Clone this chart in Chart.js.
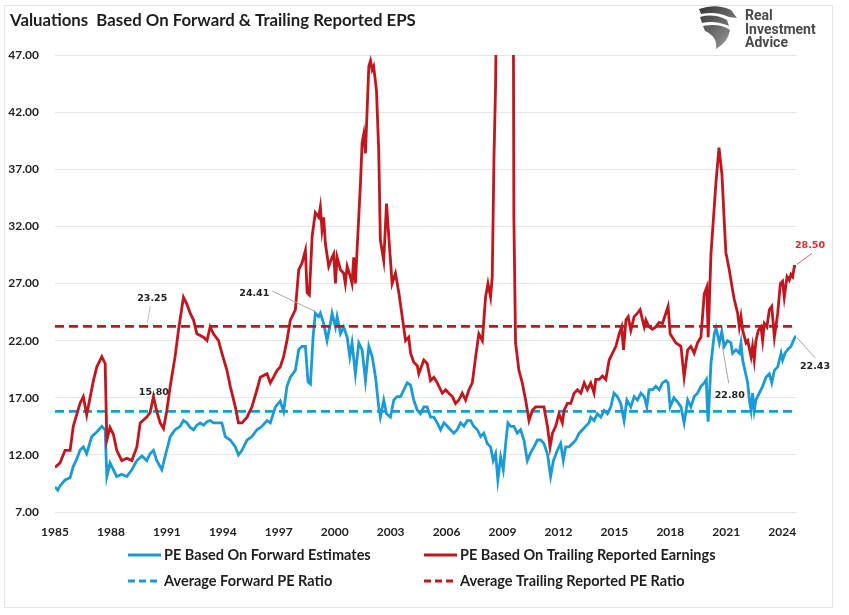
<!DOCTYPE html>
<html><head><meta charset="utf-8">
<script src="https://cdn.jsdelivr.net/npm/chart.js@4.4.1/dist/chart.umd.min.js"></script>
<style>html,body{margin:0;padding:0;background:#fff}#wrap{width:849px;height:615px;position:relative}</style>
</head><body><div id="wrap"><canvas id="c" width="849" height="615"></canvas></div>
<script>
const chartTitle = "Valuations  Based On Forward & Trailing Reported EPS";
const logoLines = ["Real", "Investment", "Advice"];
const tickYears = [1985,1988,1991,1994,1997,2000,2003,2006,2009,2012,2015,2018,2021,2024];
const yTicks = [7,12,17,22,27,32,37,42,47];
const seriesNames = ["PE Based On Forward Estimates","PE Based On Trailing Reported Earnings","Average Forward PE Ratio","Average Trailing Reported PE Ratio"];

const forwardDates = [1985.00,1985.15,1985.27,1985.54,1985.81,1985.98,1986.16,1986.34,1986.52,1986.70,1986.97,1987.24,1987.51,1987.69,1987.78,1987.95,1988.13,1988.31,1988.58,1988.85,1989.12,1989.39,1989.66,1989.92,1990.10,1990.28,1990.46,1990.73,1990.91,1991.18,1991.44,1991.71,1991.89,1992.07,1992.25,1992.43,1992.61,1992.79,1992.97,1993.15,1993.32,1993.50,1993.68,1993.95,1994.13,1994.40,1994.67,1994.84,1995.03,1995.30,1995.56,1995.83,1996.10,1996.37,1996.55,1996.82,1997.08,1997.26,1997.44,1997.62,1997.89,1998.07,1998.25,1998.43,1998.57,1998.70,1998.84,1998.96,1999.14,1999.23,1999.41,1999.59,1999.77,1999.86,2000.04,2000.13,2000.31,2000.48,2000.67,2000.81,2000.93,2001.11,2001.29,2001.47,2001.65,2001.83,2002.01,2002.19,2002.36,2002.45,2002.63,2002.78,2002.99,2003.17,2003.35,2003.53,2003.71,2003.89,2004.07,2004.24,2004.43,2004.60,2004.78,2004.96,2005.14,2005.32,2005.50,2005.68,2005.86,2006.04,2006.21,2006.39,2006.57,2006.75,2006.93,2007.11,2007.29,2007.46,2007.65,2007.83,2008.00,2008.18,2008.36,2008.50,2008.63,2008.75,2008.90,2009.04,2009.17,2009.29,2009.44,2009.61,2009.79,2009.97,2010.15,2010.33,2010.51,2010.69,2010.87,2011.05,2011.22,2011.41,2011.58,2011.73,2011.94,2012.12,2012.26,2012.39,2012.57,2012.75,2012.93,2013.11,2013.29,2013.46,2013.64,2013.73,2013.91,2014.09,2014.27,2014.45,2014.63,2014.81,2014.98,2015.16,2015.34,2015.52,2015.67,2015.88,2016.06,2016.24,2016.42,2016.60,2016.74,2016.86,2017.04,2017.22,2017.40,2017.58,2017.76,2017.88,2017.99,2018.19,2018.40,2018.57,2018.74,2018.93,2019.10,2019.28,2019.46,2019.64,2019.82,2019.93,2019.99,2020.03,2020.18,2020.36,2020.45,2020.63,2020.76,2020.89,2021.07,2021.25,2021.34,2021.52,2021.70,2021.79,2021.88,2021.96,2022.15,2022.24,2022.33,2022.41,2022.50,2022.59,2022.77,2022.95,2023.13,2023.31,2023.44,2023.58,2023.76,2023.94,2024.02,2024.15,2024.29,2024.47,2024.65,2024.74];
const forwardPE = [9.2,8.9,9.3,9.8,10.0,11.0,11.6,12.4,12.7,12.1,13.6,14.0,14.5,14.2,10.1,11.3,10.7,10.1,10.3,10.1,10.7,11.5,11.9,11.5,12.1,12.4,11.5,10.7,11.9,13.6,14.2,14.5,15.0,14.8,14.4,14.2,14.6,14.8,14.6,14.9,15.0,14.8,14.8,14.8,13.6,13.3,12.7,12.0,12.4,13.3,13.6,14.2,14.5,15.0,14.8,16.2,16.7,15.8,18.0,18.8,19.4,21.2,21.5,21.5,18.4,18.2,22.3,24.4,24.1,24.4,23.5,22.0,23.5,24.4,23.2,24.1,22.6,23.2,22.3,20.6,21.8,19.1,21.8,21.2,18.5,21.5,20.6,18.8,16.2,15.3,16.8,15.6,15.3,16.8,17.1,17.1,17.7,18.3,18.1,16.8,15.9,15.6,16.2,16.2,15.3,15.3,14.8,14.2,14.8,14.5,14.2,13.9,14.2,14.8,14.5,15.0,15.0,14.5,14.2,13.6,13.9,13.0,12.7,11.5,12.1,9.8,11.8,10.7,13.0,14.8,14.5,14.5,13.9,14.2,13.3,11.5,12.2,12.7,13.3,13.3,13.0,12.1,10.1,11.5,12.4,13.0,11.5,12.7,12.7,13.0,13.3,13.9,14.2,14.5,14.8,15.3,15.0,15.6,15.3,15.9,15.6,16.2,17.4,17.1,16.5,15.0,16.8,16.2,17.1,16.8,17.4,17.1,16.2,17.7,17.7,18.0,17.7,18.3,18.5,18.3,16.2,17.0,16.6,16.2,14.8,16.8,16.2,17.1,17.4,18.0,18.3,18.6,16.0,14.9,20.0,22.6,23.1,21.8,22.8,21.5,22.0,21.8,20.9,21.2,20.9,21.8,20.3,19.7,18.3,16.8,15.9,17.4,15.9,16.8,17.4,18.0,18.8,19.1,18.3,19.4,19.7,20.9,20.3,20.9,21.2,21.5,22.2,22.43];

const trailingDates = [1985.00,1985.27,1985.54,1985.81,1985.98,1986.34,1986.52,1986.70,1986.88,1987.06,1987.24,1987.51,1987.69,1987.78,1987.95,1988.13,1988.31,1988.58,1988.85,1989.12,1989.39,1989.57,1989.92,1990.10,1990.28,1990.46,1990.64,1990.82,1991.00,1991.18,1991.44,1991.62,1991.89,1992.07,1992.25,1992.43,1992.61,1992.96,1993.15,1993.32,1993.50,1993.77,1993.95,1994.22,1994.40,1994.67,1994.84,1995.03,1995.30,1995.56,1995.83,1996.01,1996.37,1996.55,1996.72,1996.91,1997.08,1997.26,1997.44,1997.62,1997.89,1998.07,1998.25,1998.43,1998.52,1998.64,1998.79,1998.96,1999.14,1999.23,1999.32,1999.41,1999.50,1999.68,1999.86,1999.95,2000.04,2000.13,2000.31,2000.48,2000.57,2000.67,2000.84,2000.93,2001.02,2001.11,2001.29,2001.38,2001.47,2001.56,2001.65,2001.74,2001.83,2001.92,2002.01,2002.09,2002.24,2002.36,2002.45,2002.63,2002.78,2002.90,2003.08,2003.26,2003.44,2003.62,2003.80,2003.97,2004.07,2004.24,2004.43,2004.51,2004.78,2004.96,2005.14,2005.32,2005.50,2005.68,2005.77,2005.95,2006.12,2006.31,2006.48,2006.66,2006.84,2007.02,2007.20,2007.38,2007.56,2007.73,2007.92,2008.09,2008.22,2008.36,2008.45,2008.54,2008.63,2008.73,2008.90,2009.17,2009.38,2009.52,2009.61,2009.70,2009.88,2010.06,2010.24,2010.42,2010.60,2010.78,2011.05,2011.22,2011.41,2011.55,2011.68,2011.85,2012.03,2012.21,2012.30,2012.48,2012.66,2012.84,2013.02,2013.20,2013.38,2013.55,2013.73,2013.91,2014.00,2014.18,2014.36,2014.54,2014.72,2014.90,2015.08,2015.26,2015.39,2015.49,2015.62,2015.74,2015.88,2016.06,2016.24,2016.38,2016.51,2016.60,2016.69,2016.86,2017.04,2017.22,2017.40,2017.58,2017.76,2017.88,2017.99,2018.30,2018.57,2018.74,2018.93,2019.10,2019.28,2019.46,2019.64,2019.82,2019.96,2020.03,2020.18,2020.27,2020.45,2020.61,2020.77,2020.89,2020.98,2021.16,2021.34,2021.43,2021.61,2021.70,2021.79,2021.88,2022.06,2022.15,2022.33,2022.41,2022.50,2022.59,2022.72,2022.86,2022.95,2023.04,2023.18,2023.31,2023.44,2023.58,2023.76,2023.90,2024.02,2024.11,2024.26,2024.38,2024.47,2024.56,2024.65,2024.74];
const trailingPE = [10.9,11.3,12.4,12.4,14.5,16.5,17.1,15.5,17.0,18.5,19.7,20.6,20.0,13.3,14.4,13.8,12.4,11.5,11.7,11.5,12.7,14.8,15.3,15.7,17.1,15.8,14.8,14.3,15.9,18.0,20.6,22.9,25.8,25.2,24.4,23.8,22.6,22.3,22.0,23.2,22.6,22.0,20.9,19.4,18.0,16.2,14.8,14.8,15.3,16.2,17.7,18.8,19.1,18.3,18.8,19.4,19.7,20.6,22.0,23.8,24.7,28.2,28.8,29.9,26.2,26.0,31.1,33.2,32.8,33.7,31.7,32.8,30.5,28.5,29.3,29.6,27.0,29.3,28.2,27.9,27.0,28.5,27.6,27.0,29.3,27.0,32.8,35.7,39.3,40.1,38.4,42.2,46.0,46.5,45.7,46.0,43.9,38.7,30.8,29.0,34.0,31.1,27.0,27.9,26.2,24.1,22.0,22.3,20.9,20.1,19.8,19.1,20.3,20.0,18.5,18.8,18.3,17.7,17.4,17.7,17.4,17.1,16.5,16.8,17.4,16.8,17.7,18.3,20.6,22.6,22.0,25.8,27.0,25.8,27.6,37.8,44.5,60.0,90.0,116.0,123.0,90.0,32.8,21.8,19.4,18.3,16.8,15.0,15.9,16.2,16.2,16.2,14.5,12.7,13.9,14.5,15.6,14.8,15.9,16.5,16.5,17.4,17.7,17.4,18.3,17.7,18.3,17.4,18.6,18.6,18.9,18.6,20.3,20.9,21.5,22.6,23.2,21.2,23.8,24.1,22.9,24.1,24.4,24.7,23.8,23.2,23.8,23.2,23.0,23.2,23.6,23.5,24.4,25.0,22.6,21.8,21.5,18.8,21.2,21.5,20.9,21.8,22.3,26.1,26.7,22.3,29.6,31.7,35.9,38.9,36.5,32.5,29.7,28.2,26.4,25.6,24.4,23.2,24.1,22.9,21.8,22.0,20.6,21.5,20.3,22.0,22.9,23.2,22.0,23.5,23.2,24.7,25.0,22.3,24.4,27.0,27.2,25.8,27.6,27.3,27.8,27.6,28.5,28.5];

const avgForwardPE = 15.80;
const avgTrailingPE = 23.25;
const dateRange = [1985.00, 2024.74];

const RED = '#C3161C', BLUE = '#1A9BD7';

function pts(xs, ys){ return xs.map((d,i)=>({x:d, y:ys[i]})); }
function valueAt(xs, ys, d){ return ys[xs.indexOf(d)]; }

const notes = [
  {text:'28.50', x:2024.74, y:valueAt(trailingDates,trailingPE,2024.74), dx:14, dy:-21, line:[1,-2,16,-13], color:'#E8262E', lineColor:'#E06666'},
  {text:'22.43', x:2024.74, y:valueAt(forwardDates,forwardPE,2024.74), dx:19, dy:31, line:[1,2,19,22], color:'#222', lineColor:'#A6A6A6'},
  {text:'22.80', x:2020.76, y:valueAt(forwardDates,forwardPE,2020.76), dx:8, dy:64, line:[0,12,7,52], color:'#222', lineColor:'#A6A6A6'},
  {text:'24.41', x:1998.96, y:24.41, dx:-61, dy:-20, line:[-1,-2,-43,-22], color:'#222', lineColor:'#A6A6A6'},
  {text:'23.25', x:1990.0, y:avgTrailingPE, dx:4, dy:-28, line:[-1,-3,2,-20], color:'#222', lineColor:'#BFBFBF'},
  {text:'15.80', x:1990.3, y:avgForwardPE, dx:0, dy:-19, color:'#222'}
];

const legendItems = [
  {label:seriesNames[0], color:BLUE, dash:[], col:0, row:0},
  {label:seriesNames[1], color:RED, dash:[], col:1, row:0},
  {label:seriesNames[2], color:BLUE, dash:[7,4], col:0, row:1},
  {label:seriesNames[3], color:RED, dash:[7,4], col:1, row:1}
];
const legendCols = [128, 424], legendRows = [555, 581];

function drawEagle(ctx){
  ctx.save();
  const g = ctx.createLinearGradient(698,4,736,48);
  g.addColorStop(0,'#2f2f2f'); g.addColorStop(1,'#a0a0a0');
  ctx.fillStyle = g;
  ctx.beginPath();
  ctx.moveTo(699,9); ctx.quadraticCurveTo(716,3,731,10); ctx.lineTo(737,18); ctx.lineTo(729,17);
  ctx.quadraticCurveTo(716,11,701,14); ctx.closePath(); ctx.fill();
  ctx.beginPath();
  ctx.moveTo(700,17); ctx.quadraticCurveTo(714,13,727,20); ctx.lineTo(729,26);
  ctx.quadraticCurveTo(715,20,702,23); ctx.closePath(); ctx.fill();
  ctx.beginPath();
  ctx.moveTo(703,26); ctx.quadraticCurveTo(720,23,730,30); ctx.quadraticCurveTo(728,42,716,49);
  ctx.quadraticCurveTo(718,37,705,31); ctx.closePath(); ctx.fill();
  ctx.restore();
}

const decor = {
  id:'decor',
  afterDatasetsDraw(chart){
    const {ctx, scales:{x,y}} = chart;
    ctx.save();
    ctx.font = 'bold 9.5px "DejaVu Sans"';
    ctx.textAlign = 'center'; ctx.textBaseline = 'middle';
    notes.forEach(n=>{
      const px = x.getPixelForValue(n.x), py = y.getPixelForValue(n.y);
      if(n.line){
        ctx.strokeStyle = n.lineColor; ctx.lineWidth = 1;
        ctx.beginPath(); ctx.moveTo(px+n.line[0], py+n.line[1]); ctx.lineTo(px+n.line[2], py+n.line[3]); ctx.stroke();
      }
      ctx.fillStyle = n.color; ctx.fillText(n.text, px+n.dx, py+n.dy);
    });
    ctx.restore();
  },
  afterDraw(chart){
    const ctx = chart.ctx;
    ctx.save();
    ctx.strokeStyle = '#E4E4E4'; ctx.lineWidth = 1;
    ctx.strokeRect(4.5, 5.5, 828, 602);
    ctx.fillStyle = '#1E1E1E';
    ctx.font = 'bold 16.8px Lato';
    ctx.textAlign = 'left'; ctx.textBaseline = 'alphabetic';
    ctx.fillText(chartTitle, 10, 26);
    drawEagle(ctx);
    ctx.fillStyle = '#4A4A4A';
    ctx.font = 'bold 14px Roboto';
    logoLines.forEach((t,i)=>ctx.fillText(t, 745, 20 + i*13.5));
    ctx.font = 'bold 14.5px Lato';
    ctx.textBaseline = 'middle';
    legendItems.forEach(it=>{
      const lx = legendCols[it.col], ly = legendRows[it.row];
      ctx.strokeStyle = it.color; ctx.lineWidth = 3; ctx.setLineDash(it.dash);
      ctx.beginPath(); ctx.moveTo(lx, ly); ctx.lineTo(lx+33, ly); ctx.stroke();
      ctx.setLineDash([]);
      ctx.fillStyle = '#1E1E1E';
      ctx.fillText(it.label, lx+36, ly);
    });
    ctx.restore();
  }
};

new Chart(document.getElementById('c'), {
  type:'line',
  data:{
    datasets:[
      {label:seriesNames[1], data:pts(trailingDates, trailingPE), borderColor:RED, borderWidth:2.8, pointRadius:0, tension:0},
      {label:seriesNames[3], data:pts(dateRange, [avgTrailingPE, avgTrailingPE]), borderColor:RED, borderWidth:2.8, borderDash:[9,5], pointRadius:0},
      {label:seriesNames[2], data:pts(dateRange, [avgForwardPE, avgForwardPE]), borderColor:BLUE, borderWidth:2.8, borderDash:[9,5], pointRadius:0},
      {label:seriesNames[0], data:pts(forwardDates, forwardPE), borderColor:BLUE, borderWidth:2.8, pointRadius:0, tension:0}
    ]
  },
  options:{
    responsive:false, animation:false, devicePixelRatio:1,
    layout:{padding:{left:0, right:53, top:55, bottom:73}},
    plugins:{legend:{display:false}, title:{display:false}, tooltip:{enabled:false}},
    scales:{
      x:{type:'linear', min:dateRange[0], max:dateRange[1],
        afterBuildTicks:s=>{ s.ticks = tickYears.map(v=>({value:v})); },
        afterFit:s=>{ s.height = 30; },
        ticks:{callback:v=>String(v), autoSkip:false, maxRotation:0, padding:5, color:'#222', font:{family:'Lato', weight:'bold', size:12}},
        grid:{display:false}, border:{display:false}},
      y:{min:7, max:47,
        afterBuildTicks:s=>{ s.ticks = yTicks.map(v=>({value:v})); },
        afterFit:s=>{ s.width = 55; },
        ticks:{callback:v=>v.toFixed(2), padding:16, color:'#222', font:{family:'Lato', weight:'bold', size:12}},
        grid:{color:'#E6E6E6', lineWidth:1, drawTicks:false}, border:{display:false}}
    }
  },
  plugins:[decor]
});
</script></body></html>
